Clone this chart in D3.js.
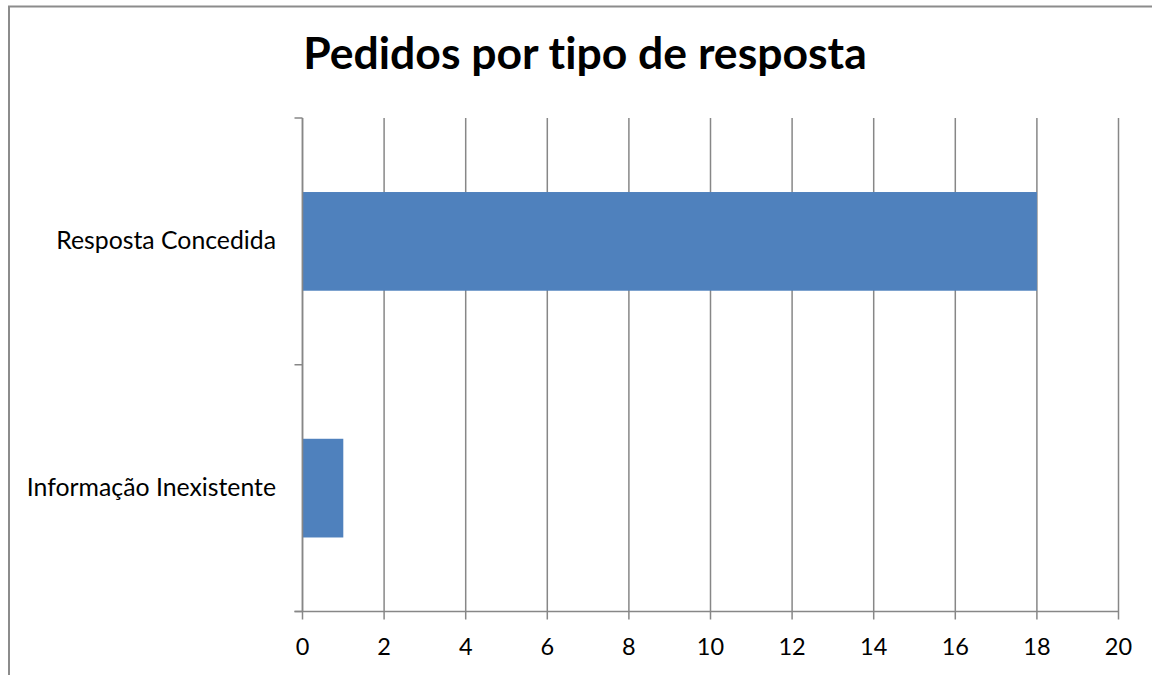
<!DOCTYPE html>
<html><head><meta charset="utf-8">
<script src="https://cdn.jsdelivr.net/npm/d3@7"></script>
<style>html,body{margin:0;padding:0;background:#fff;overflow:hidden} text{font-variant-ligatures:none}</style>
</head><body>
<svg id="c" width="1152" height="675"></svg>
<script>
const titleText = "Pedidos por tipo de resposta";
const categories = ["Resposta Concedida", "Informação Inexistente"];
const values = [18, 1];
const xTicks = [0, 2, 4, 6, 8, 10, 12, 14, 16, 18, 20];

const svg = d3.select("#c");
const font = "Lato, 'Open Sans', sans-serif";
const gridColor = "#878787";
const m = {left: 302.5, right: 1118.5, top: 118, bottom: 611.5};

svg.append("rect").attr("x", 9).attr("y", 6.5).attr("width", 1300).attr("height", 800)
  .attr("fill", "#fff").attr("stroke", "#8c8c8c").attr("stroke-width", 2);

const x = d3.scaleLinear().domain([0, 20]).range([m.left, m.right]);
const y = d3.scaleBand().domain(categories).range([m.top, m.bottom]).paddingInner(0.6).paddingOuter(0.3);

// gridlines
svg.append("g").selectAll("line").data(xTicks).join("line")
  .attr("x1", d => x(d)).attr("x2", d => x(d))
  .attr("y1", m.top).attr("y2", m.bottom + 8)
  .attr("stroke", gridColor).attr("stroke-width", 1.5);

// bars
svg.append("g").selectAll("rect").data(categories).join("rect")
  .attr("x", x(0)).attr("y", (d) => y(d))
  .attr("width", (d, i) => x(values[i]) - x(0))
  .attr("height", y.bandwidth())
  .attr("fill", "#4f81bd");

// y axis line + category ticks
svg.append("line").attr("x1", m.left).attr("x2", m.left).attr("y1", m.top).attr("y2", m.bottom)
  .attr("stroke", gridColor).attr("stroke-width", 1.5);
const catTicks = d3.range(categories.length + 1).map(i => m.top + (m.bottom - m.top) * i / categories.length);
svg.append("g").selectAll("line").data(catTicks).join("line")
  .attr("x1", m.left - 8).attr("x2", m.left).attr("y1", d => d).attr("y2", d => d)
  .attr("stroke", gridColor).attr("stroke-width", 1.5);
// x axis line
svg.append("line").attr("x1", m.left - 8).attr("x2", m.right).attr("y1", m.bottom).attr("y2", m.bottom)
  .attr("stroke", gridColor).attr("stroke-width", 1.5);

// x tick labels
svg.append("g").selectAll("text").data(xTicks).join("text")
  .attr("x", d => x(d)).attr("y", 655)
  .attr("text-anchor", "middle").attr("font-family", font).attr("font-size", 23.5)
  .attr("fill", "#000").text(d => d);

// category labels
svg.append("g").selectAll("text").data(categories).join("text")
  .attr("x", 276).attr("y", d => y(d) + y.bandwidth() / 2 + 8)
  .attr("text-anchor", "end").attr("font-family", font).attr("font-size", 24.8)
  .attr("fill", "#000").text(d => d);

// title
svg.append("text").attr("x", 585).attr("y", 69)
  .attr("text-anchor", "middle").attr("font-family", font).attr("font-weight", "bold")
  .attr("font-size", 44.5).attr("fill", "#000").text(titleText);
</script>
</body></html>
